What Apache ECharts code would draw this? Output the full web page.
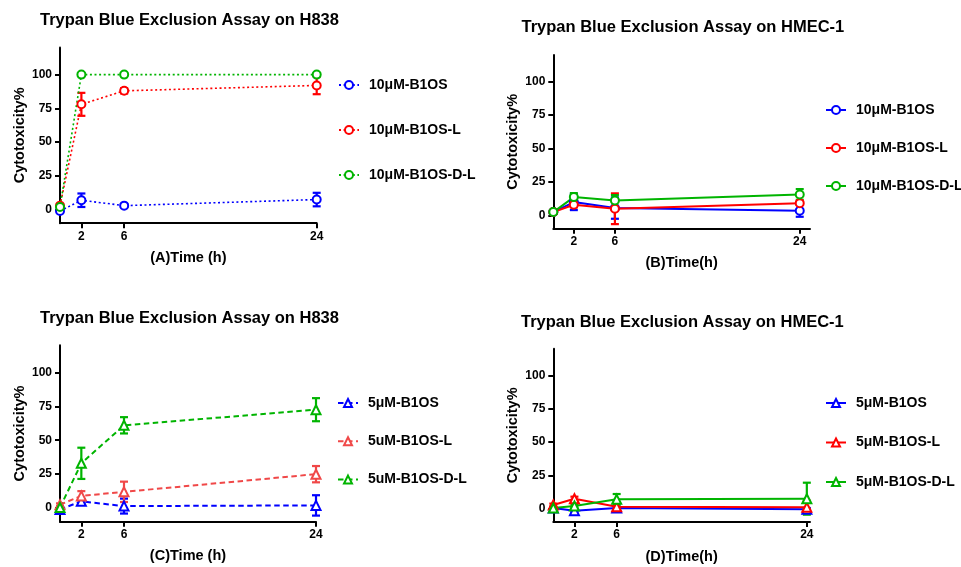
<!DOCTYPE html>
<html><head><meta charset="utf-8">
<script src="https://cdn.jsdelivr.net/npm/echarts@6/dist/echarts.min.js"></script>
<style>html,body{margin:0;padding:0;background:#fff}#c{width:961px;height:567px}</style>
</head><body><div id="c"></div><script>
// ---------- data ----------
const timeH = [0, 2, 6, 24];
const xTickLabels = [2, 6, 24];
const yTickLabels = [0, 25, 50, 75, 100];

const panelTitles = [
  'Trypan Blue Exclusion Assay on H838',
  'Trypan Blue Exclusion Assay on HMEC-1',
  'Trypan Blue Exclusion Assay on H838',
  'Trypan Blue Exclusion Assay on HMEC-1'
];
const xAxisNames = ['(A)Time (h)', '(B)Time(h)', '(C)Time (h)', '(D)Time(h)'];
const yAxisName = 'Cytotoxicity%';

const namesA = ['10μM-B1OS', '10μM-B1OS-L', '10μM-B1OS-D-L'];
const namesB = ['10μM-B1OS', '10μM-B1OS-L', '10μM-B1OS-D-L'];
const namesC = ['5μM-B1OS', '5uM-B1OS-L', '5uM-B1OS-D-L'];
const namesD = ['5μM-B1OS', '5μM-B1OS-L', '5μM-B1OS-D-L'];

// Panel A (H838, 10 µM)
const meanA_B1OS = [-1, 7, 3, 7.5];
const errA_B1OS  = [1, 5, 1, 5];
const meanA_L    = [3, 78, 88, 92];
const errA_L     = [1, 8.5, 2, 6.5];
const meanA_DL   = [2, 100, 100, 100];
const errA_DL    = [0.5, 0.5, 0.5, 0.5];

// Panel B (HMEC-1, 10 µM)
const meanB_B1OS = [2.5, 10, 5.5, 3.5];
const errB_B1OS  = [1, 6, 8, 4.5];
const meanB_L    = [2.5, 8, 5, 9.2];
const errB_L     = [1, 2, 11.5, 6.5];
const meanB_DL   = [2.5, 13.7, 11.2, 15.7];
const errB_DL    = [1, 3, 4, 4];

// Panel C (H838, 5 µM)
const meanC_B1OS = [-1, 5, 1.5, 2];
const errC_B1OS  = [1, 1.5, 5.5, 7.5];
const meanC_L    = [2.5, 9, 12, 25];
const errC_L     = [1, 3.5, 7.5, 6];
const meanC_DL   = [0.5, 33, 61, 72.5];
const errC_DL    = [0.5, 11.5, 6, 8.5];

// Panel D (HMEC-1, 5 µM)
const meanD_B1OS = [0.5, -1.5, 0.5, -0.5];
const errD_B1OS  = [0.5, 1, 1, 1];
const meanD_L    = [2.8, 7.5, 1.5, 1];
const errD_L     = [1, 1.5, 3, 5];
const meanD_DL   = [0.5, 2, 7, 7.5];
const errD_DL    = [0.5, 1, 4, 12];

// ---------- styling / layout ----------
const FONT = 'Liberation Sans, Arial, sans-serif';
const BLUE = '#0000ff', RED = '#ff0000', GREEN = '#00b400', LRED = '#f04848';

const panels = [
  { grid: {left: 60, top: 47.6, width: 256.7, height: 175.6}, xMax: 24,
    title: {left: 40, top: 12}, legend: {left: 338, top: 78, itemGap: 31},
    lineType: [2, 2.6], lineWidth: 1.6, symbol: 'emptyCircle', symSize: 8,
    names: namesA, colors: [BLUE, RED, GREEN],
    means: [meanA_B1OS, meanA_L, meanA_DL], errs: [errA_B1OS, errA_L, errA_DL] },
  { grid: {left: 553.3, top: 55, width: 256.7, height: 173.8}, xMax: 25,
    title: {left: 521.5, top: 18.5}, legend: {left: 825, top: 103, itemGap: 24},
    lineType: 'solid', lineWidth: 2, symbol: 'emptyCircle', symSize: 8,
    names: namesB, colors: [BLUE, RED, GREEN],
    means: [meanB_B1OS, meanB_L, meanB_DL], errs: [errB_B1OS, errB_L, errB_DL] },
  { grid: {left: 60, top: 345.2, width: 256, height: 176.5}, xMax: 24,
    title: {left: 40, top: 310}, legend: {left: 337, top: 396, itemGap: 24.3},
    lineType: [5.5, 3.5], lineWidth: 2, symbol: 'emptyTriangle', symSize: 9,
    names: namesC, colors: [BLUE, LRED, GREEN],
    means: [meanC_B1OS, meanC_L, meanC_DL], errs: [errC_B1OS, errC_L, errC_DL] },
  { grid: {left: 553.3, top: 348.8, width: 256.7, height: 173.2}, xMax: 24.3,
    title: {left: 521, top: 313.5}, legend: {left: 825, top: 396, itemGap: 25.5},
    lineType: 'solid', lineWidth: 2, symbol: 'emptyTriangle', symSize: 9,
    names: namesD, colors: [BLUE, RED, GREEN],
    means: [meanD_B1OS, meanD_L, meanD_DL], errs: [errD_B1OS, errD_L, errD_DL] }
];

// ---------- build option ----------
const option = {
  animation: false,
  backgroundColor: '#fff',
  title: [], grid: [], xAxis: [], yAxis: [], legend: [], series: []
};

const axisCommon = {
  axisLine: {show: true, onZero: false, lineStyle: {color: '#000', width: 2}},
  axisTick: {show: true, inside: false, length: 5, lineStyle: {color: '#000', width: 2}},
  splitLine: {show: false},
  nameTextStyle: {color: '#000', fontWeight: 'bold', fontSize: 14.5, fontFamily: FONT}
};

function errRenderer(color) {
  return function (params, api) {
    const x = api.value(0), lo = api.value(1), hi = api.value(2);
    const p1 = api.coord([x, hi]);
    const p2 = api.coord([x, lo]);
    const w = 4;
    const st = {stroke: color, lineWidth: 2.2, fill: null};
    return {type: 'group', children: [
      {type: 'line', shape: {x1: p1[0], y1: p1[1], x2: p2[0], y2: p2[1]}, style: st},
      {type: 'line', shape: {x1: p1[0] - w, y1: p1[1], x2: p1[0] + w, y2: p1[1]}, style: st},
      {type: 'line', shape: {x1: p2[0] - w, y1: p2[1], x2: p2[0] + w, y2: p2[1]}, style: st}
    ]};
  };
}

panels.forEach((p, i) => {
  option.title.push({
    text: panelTitles[i], left: p.title.left, top: p.title.top, padding: 0,
    textStyle: {color: '#000', fontWeight: 'bold', fontSize: 16.5, fontFamily: FONT}
  });
  option.grid.push(Object.assign({containLabel: false}, p.grid));
  option.xAxis.push(Object.assign({}, axisCommon, {
    type: 'value', gridIndex: i, min: 0, max: p.xMax,
    name: xAxisNames[i], nameLocation: 'middle', nameGap: 27,
    axisTick: Object.assign({}, axisCommon.axisTick, {customValues: xTickLabels}),
    axisLabel: {customValues: xTickLabels, color: '#000', fontWeight: 'bold', fontSize: 12, fontFamily: FONT, margin: 7}
  }));
  option.yAxis.push(Object.assign({}, axisCommon, {
    type: 'value', gridIndex: i, min: -10, max: 120,
    name: yAxisName, nameLocation: 'middle', nameGap: 33,
    axisTick: Object.assign({}, axisCommon.axisTick, {customValues: yTickLabels}),
    axisLabel: {customValues: yTickLabels, color: '#000', fontWeight: 'bold', fontSize: 12, fontFamily: FONT, margin: 8}
  }));
  const legendData = [];
  p.names.forEach((nm, k) => {
    const key = 'P' + i + '#' + nm;
    legendData.push(key);
    const color = p.colors[k];
    option.series.push({
      type: 'custom', name: 'err' + i + '_' + k, xAxisIndex: i, yAxisIndex: i,
      renderItem: errRenderer(color), clip: false, z: 2,
      encode: {x: 0, y: [1, 2]},
      data: timeH.map((t, j) => [t, p.means[k][j] - p.errs[k][j], p.means[k][j] + p.errs[k][j]])
    });
    option.series.push({
      type: 'line', name: key, xAxisIndex: i, yAxisIndex: i, z: 3,
      data: timeH.map((t, j) => [t, p.means[k][j]]),
      symbol: p.symbol, symbolSize: p.symSize,
      showAllSymbol: true, clip: false,
      color: color,
      itemStyle: {color: color, borderWidth: 2.6},
      lineStyle: {color: color, width: p.lineWidth, type: p.lineType}
    });
  });
  option.legend.push({
    orient: 'vertical', left: p.legend.left, top: p.legend.top, itemGap: p.legend.itemGap,
    itemWidth: 20, itemHeight: 10, padding: 0, selectedMode: false,
    data: legendData,
    formatter: n => n.split('#')[1],
    textStyle: {color: '#000', fontWeight: 'bold', fontSize: 14, fontFamily: FONT, padding: [0, 0, 0, 5]}
  });
});

const chart = echarts.init(document.getElementById('c'), null, {renderer: 'canvas'});
chart.setOption(option);
</script></body></html>
